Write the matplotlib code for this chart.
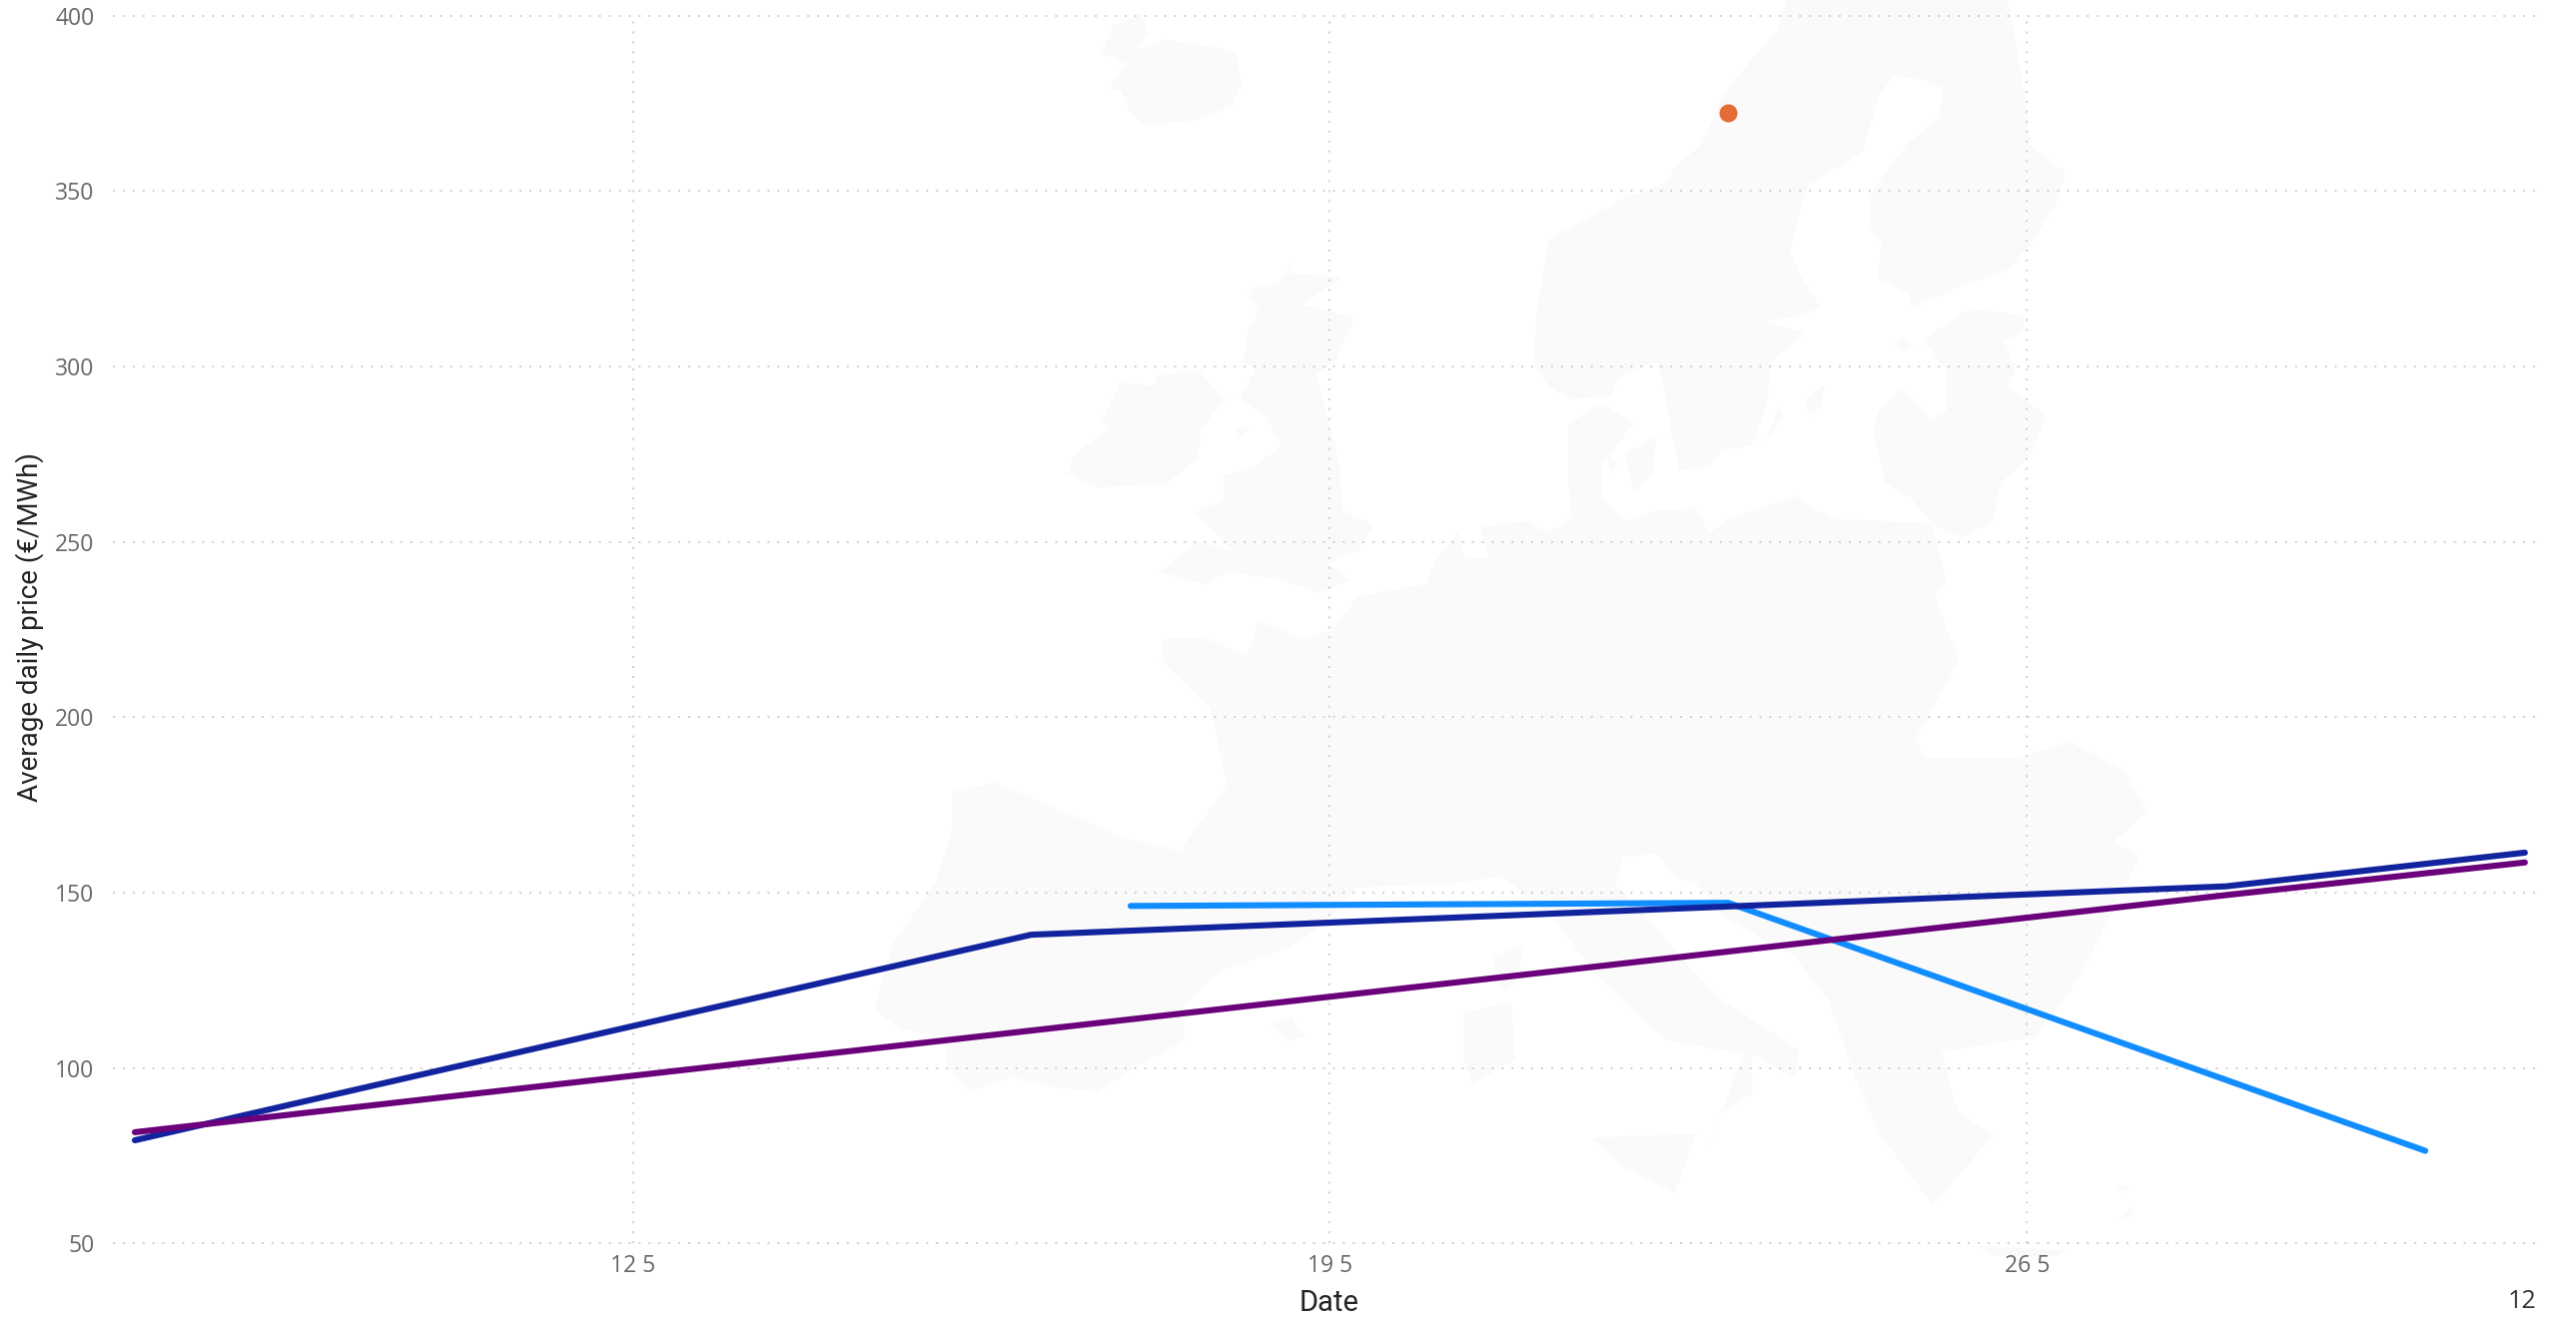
import matplotlib
matplotlib.use("Agg")
import matplotlib.pyplot as plt
import numpy as np
import pandas as pd
from matplotlib.patches import Polygon

# ---- data ----
dark_dates = ["2022-05-07", "2022-05-16", "2022-05-28", "2022-05-31"]
dark_values = [79.4, 138.0, 151.8, 161.4]
purple_dates = ["2022-05-07", "2022-05-28", "2022-05-31"]
purple_values = [81.7, 149.3, 158.6]
light_dates = ["2022-05-17", "2022-05-23", "2022-05-30"]
light_values = [146.2, 147.1, 76.4]
dot_dates = ["2022-05-23"]
dot_values = [372.3]
y_ticks = [50, 100, 150, 200, 250, 300, 350, 400]
x_tick_dates = ["2022-05-12", "2022-05-19", "2022-05-26"]
x_tick_labels = ["12 5", "19 5", "26 5"]

W, H = 2579, 1323
TICK_FONT = "Open Sans"
TITLE_FONT = "Roboto"

fig = plt.figure(figsize=(W / 100, H / 100), dpi=100, facecolor="white")

# ---- faint map backdrop, in figure pixels ----
bg = fig.add_axes([0, 0, 1, 1], zorder=0)
bg.set_xlim(0, W)
bg.set_ylim(H, 0)
bg.axis("off")

def z4(points):
    return [(x / 1.3067 + 1000, y / 2.376) for x, y in points]

def z5(points):
    return [(x / 1.1615 + 850, y / 2.613 + 640) for x, y in points]

iceland = z4([(150,60),(185,35),(195,80),(180,120),(215,95),(240,100),(290,115),(310,130),(318,200),(305,250),(260,285),(190,298),(170,260),(160,215),(145,210),(165,150),(135,125)])
scandinavia = z4([(1030,0),(1020,70),(990,130),(950,220),(920,340),(885,400),(870,440),(820,470),(770,520),(720,570),(705,720),(700,860),(720,920),(750,950),(800,940),(815,890),(860,860),(870,920),(880,1030),(890,1120),(930,1110),(945,1070),(985,1060),(1005,960),(1010,860),(1050,800),(1050,790),(1000,765),(1050,750),(1075,730),(1050,660),(1035,600),(1050,480),(1060,440),(1130,360),(1140,300),(1150,230),(1170,180),(1210,190),(1235,210),(1230,280),(1190,340),(1160,410),(1140,470),(1140,540),(1155,580),(1150,660),(1190,700),(1195,730),(1260,680),(1320,640),(1350,580),(1385,480),(1395,410),(1350,350),(1335,150),(1320,0)])
baltics = z4([(1210,810),(1240,770),(1270,735),(1340,750),(1340,790),(1315,810),(1330,880),(1320,920),(1370,990),(1350,1080),(1310,1150),(1300,1240),(1260,1280),(1225,1250),(1190,1180),(1160,1150),(1145,1030),(1150,980),(1180,925),(1220,1000),(1240,980),(1240,880)])
britain = z4([(385,620),(380,650),(450,660),(395,725),(465,755),(440,860),(415,890),(425,960),(445,1100),(450,1215),(490,1250),(470,1310),(430,1340),(460,1380),(420,1410),(370,1380),(300,1360),(270,1390),(210,1360),(260,1290),(305,1310),(290,1280),(255,1220),(295,1190),(295,1130),(335,1110),(370,1060),(350,990),(315,950),(335,880),(320,860),(325,790),(340,740),(325,690),(370,670)])
ireland = z4([(160,910),(205,920),(205,895),(260,880),(295,950),(265,1020),(260,1090),(220,1150),(130,1160),(90,1125),(100,1080),(145,1020),(135,1000)])
continent = z4([(215,1568),(215,1520),(270,1520),(325,1560),(340,1480),(400,1520),(435,1500),(470,1420),(560,1390),(570,1340),(600,1265),(610,1330),(640,1330),(630,1255),(690,1240),(720,1270),(750,1230),(745,1160),(745,1010),(790,960),(830,1010),(790,1100),(790,1190),(820,1240),(860,1215),(910,1210),(930,1270),(950,1240),(1040,1180),(1090,1235),(1220,1245),(1240,1380),(1225,1420),(1255,1568)]) + z5([(1290,60),(1240,260),(1250,310),(1360,310),(1420,270),(1480,340),(1510,450),(1470,530),(1500,570),(1450,800),(1420,920),(1380,1040),(1270,1080),(1290,1240),(1330,1300),(1300,1380),(1260,1480),(1200,1300),(1170,1150),(1140,950),(1100,830),(1020,730),(985,640),(960,620),(940,560),(900,570),(890,640),(940,760),(1010,940),(1105,1075),(1100,1150),(1050,1085),(1050,1190),(1015,1240),(1000,1335),(1040,1085),(950,1050),(870,880),(815,720),(760,620),(700,640),(590,650),(550,750),(510,810),(430,870),(390,960),(390,1050),(340,1110),(290,1185),(230,1170),(190,1145),(140,1185),(115,1120),(110,1040),(60,1020),(30,970),(50,800),(100,640),(120,500),(120,400),(170,375),(230,435),(320,520),(385,555),(440,380),(420,180),(360,50)])
islands = [
    z5([(750,830),(785,800),(775,900),(760,920),(750,870)]),
    z5([(715,980),(770,950),(775,1100),(725,1165),(715,1100)]),
    z5([(865,1305),(985,1295),(960,1450),(900,1380)]),
    z5([(490,1010),(515,990),(530,1040),(510,1050)]),
    z4([(1055,950),(1080,915),(1075,970),(1060,990)]),
    z4([(1005,1040),(1020,970),(1025,990),(1005,1050)]),
    z4([(1170,820),(1185,805),(1195,825),(1180,835)]),
    z4([(820,1080),(860,1040),(855,1130),(830,1170)]),
    z4([(795,1080),(810,1100),(800,1130)]),
    z4([(310,1020),(330,1015),(315,1040)]),
    [(1980, 1248), (2069, 1252), (2060, 1258), (2000, 1258)],
    [(2118, 1186), (2132, 1188), (2126, 1196)],
    [(2122, 1222), (2136, 1206), (2134, 1216)],
]
for shape in [iceland, scandinavia, baltics, britain, ireland, continent] + islands:
    bg.add_patch(Polygon(shape, closed=True, facecolor="#FAFAFA", edgecolor="none"))

# ---- chart ----
L, R, T, B = 113, 2546, 15.7, 1245.3
ax = fig.add_axes([L / W, 1 - B / H, (R - L) / W, (B - T) / H], zorder=1)
ax.patch.set_alpha(0)

def days(values):
    return pd.to_datetime(values).map(lambda d: d.toordinal()).to_numpy(dtype=float)

x0 = days(["2022-05-12"])[0]
px_per_day = 99.7
ax.set_xlim(x0 + (L - 633.5) / px_per_day, x0 + (R - 633.5) / px_per_day)
ax.set_ylim(50, 400)

for s in ax.spines.values():
    s.set_visible(False)
ax.set_axisbelow(True)
ax.grid(True, color="#CCCCCC", linewidth=1.3, linestyle=(0, (1.1, 4.4)), clip_on=False)

line_kw = dict(linewidth=4.4, solid_capstyle="round", solid_joinstyle="round")
ax.plot(days(light_dates), light_values, color="#118DFF", **line_kw)
ax.plot(days(dark_dates), dark_values, color="#12239E", **line_kw)
ax.plot(days(purple_dates), purple_values, color="#6B007B", **line_kw)
ax.plot(days(dot_dates), dot_values, linestyle="none", marker="o", markersize=13,
        markerfacecolor="#E66C37", markeredgecolor="none")

ax.set_yticks(y_ticks)
ax.set_yticklabels([str(v) for v in y_ticks], fontname=TICK_FONT, fontsize=16.5, color="#666666")
ax.set_xticks(days(x_tick_dates))
ax.set_xticklabels(x_tick_labels, fontname=TICK_FONT, fontsize=16.5, color="#666666")
ax.tick_params(axis="y", length=0, pad=13.5)
ax.tick_params(axis="x", length=0, pad=8)

fig.text(29.5 / W, 1 - 628 / H, "Average daily price (€/MWh)", rotation=90, ha="center", va="center",
         fontname=TITLE_FONT, fontweight="normal", fontsize=20, color="#252423")
fig.text(1331 / W, 1 - 1305 / H, "Date", ha="center", va="center",
         fontname=TITLE_FONT, fontweight="normal", fontsize=21, color="#252423")
fig.text(2525 / W, 1 - 1304 / H, "12", ha="center", va="center",
         fontname=TICK_FONT, fontsize=18, color="#333333")

fig.savefig("out.png", dpi=100, facecolor="white")
